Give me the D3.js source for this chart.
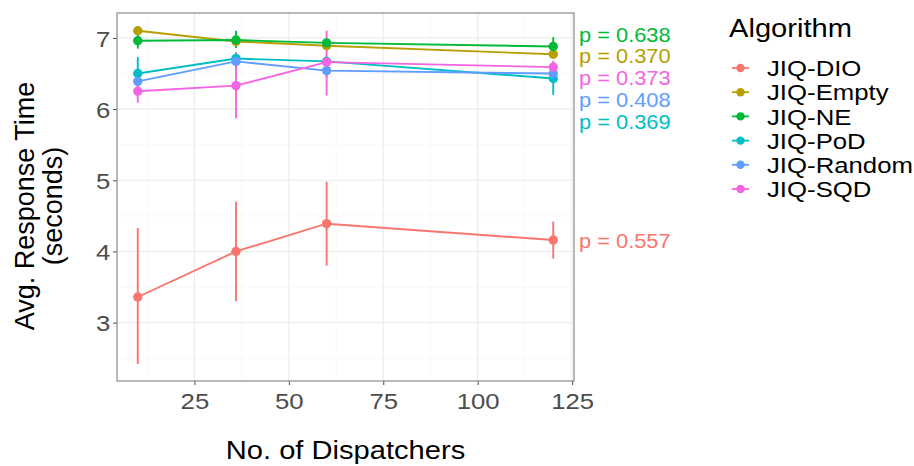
<!DOCTYPE html>
<meta charset="utf-8">
<style>
  body { margin: 0; background: #fff; }
  text { font-family: "Liberation Sans", Arial, sans-serif; }
  .grid-major { stroke: #ebebeb; stroke-width: 1.1px; }
  .grid-minor { stroke: #f4f4f4; stroke-width: 0.6px; }
  .tick text { fill: #4d4d4d; font-size: 23px; }
  .tick line { stroke: #4d4d4d; }
  .domain { display: none; }
</style>
<svg width="914" height="466"></svg>
<script src="https://cdn.jsdelivr.net/npm/d3@7"></script>
<script>
  // dispatchers on the x axis
  const dispatchers = [10, 36, 60, 120];

  const algorithms = ["JIQ-DIO", "JIQ-Empty", "JIQ-NE", "JIQ-PoD", "JIQ-Random", "JIQ-SQD"];
  const colors = ["#F8766D", "#B79F00", "#00BA38", "#00BFC4", "#619CFF", "#F564E3"];

  // mean response time per algorithm
  const meanDIO    = [3.36, 4.00, 4.39, 4.16];
  const meanEmpty  = [7.10, 6.95, 6.89, 6.77];
  const meanNE     = [6.96, 6.97, 6.93, 6.88];
  const meanPoD    = [6.50, 6.71, 6.67, 6.43];
  const meanRandom = [6.39, 6.67, 6.54, 6.50];
  const meanSQD    = [6.25, 6.33, 6.66, 6.59];

  // error bar limits
  const lowDIO    = [2.42, 3.30, 3.80, 3.90];
  const highDIO   = [4.33, 4.70, 4.98, 4.42];
  const lowEmpty  = [7.07, 6.92, 6.86, 6.74];
  const highEmpty = [7.13, 6.98, 6.92, 6.80];
  const lowNE     = [6.85, 6.86, 6.88, 6.76];
  const highNE    = [7.06, 7.10, 6.98, 7.01];
  const lowPoD    = [6.28, 6.60, 6.60, 6.20];
  const highPoD   = [6.73, 6.80, 6.74, 6.66];
  const lowRandom = [6.30, 6.55, 6.45, 6.42];
  const highRandom= [6.48, 6.80, 6.62, 6.58];
  const lowSQD    = [6.09, 5.87, 6.19, 6.50];
  const highSQD   = [6.40, 6.79, 7.10, 6.68];

  // p-value labels and where they sit (y in data units)
  const pLabels = ["p = 0.557", "p = 0.370", "p = 0.638", "p = 0.369", "p = 0.408", "p = 0.373"];
  const pLabelY = [4.15, 6.74, 7.04, 5.82, 6.13, 6.44];

  const xTicks = [25, 50, 75, 100, 125];
  const yTicks = [3, 4, 5, 6, 7];

  const means = [meanDIO, meanEmpty, meanNE, meanPoD, meanRandom, meanSQD];
  const lows = [lowDIO, lowEmpty, lowNE, lowPoD, lowRandom, lowSQD];
  const highs = [highDIO, highEmpty, highNE, highPoD, highRandom, highSQD];

  const series = algorithms.map((name, i) => ({
    name: name,
    color: colors[i],
    label: pLabels[i],
    labelY: pLabelY[i],
    points: dispatchers.map((d, j) => ({ x: d, y: means[i][j], lo: lows[i][j], hi: highs[i][j] }))
  }));

  const panel = {left: 117, top: 13, right: 574, bottom: 381};
  const stretch = "scale(1.12,1)";   // picture is a bit wider than tall

  const svg = d3.select("svg");

  const x = d3.scaleLinear().domain([4.5, 125.5]).range([panel.left, panel.right]);
  const y = d3.scaleLinear().domain([2.18, 7.35]).range([panel.bottom, panel.top]);

  // grid
  const minorX = d3.range(12.5, 125, 25);
  const minorY = d3.range(2.5, 7.4, 1);
  svg.append("g").selectAll("line").data(minorX).enter().append("line")
    .attr("class", "grid-minor")
    .attr("x1", d => x(d)).attr("x2", d => x(d))
    .attr("y1", panel.top).attr("y2", panel.bottom);
  svg.append("g").selectAll("line").data(minorY).enter().append("line")
    .attr("class", "grid-minor")
    .attr("x1", panel.left).attr("x2", panel.right)
    .attr("y1", d => y(d)).attr("y2", d => y(d));
  svg.append("g").selectAll("line").data(xTicks).enter().append("line")
    .attr("class", "grid-major")
    .attr("x1", d => x(d)).attr("x2", d => x(d))
    .attr("y1", panel.top).attr("y2", panel.bottom);
  svg.append("g").selectAll("line").data(yTicks).enter().append("line")
    .attr("class", "grid-major")
    .attr("x1", panel.left).attr("x2", panel.right)
    .attr("y1", d => y(d)).attr("y2", d => y(d));

  // axes
  const xAxis = svg.append("g")
    .attr("transform", "translate(0," + panel.bottom + ")")
    .call(d3.axisBottom(x).tickValues(xTicks).tickFormat(d3.format("d")).tickSize(4).tickPadding(2));
  xAxis.selectAll(".tick text").attr("dy", "0.95em").attr("transform", stretch);

  const yAxis = svg.append("g")
    .attr("transform", "translate(" + panel.left + ",0)")
    .call(d3.axisLeft(y).tickValues(yTicks).tickFormat(d3.format("d")).tickSize(4).tickPadding(2));
  yAxis.selectAll(".tick text").attr("dy", "0.36em").attr("transform", stretch);

  // error bars, lines, points
  const layer = svg.append("g");
  series.forEach(s => {
    layer.selectAll(null).data(s.points).enter().append("line")
      .attr("x1", d => x(d.x)).attr("x2", d => x(d.x))
      .attr("y1", d => y(d.lo)).attr("y2", d => y(d.hi))
      .attr("stroke", s.color).attr("stroke-width", 1.9);
  });
  const line = d3.line().x(d => x(d.x)).y(d => y(d.y));
  series.forEach(s => {
    layer.append("path").datum(s.points)
      .attr("d", line)
      .attr("fill", "none")
      .attr("stroke", s.color).attr("stroke-width", 1.9);
  });
  series.forEach(s => {
    layer.selectAll(null).data(s.points).enter().append("circle")
      .attr("cx", d => x(d.x)).attr("cy", d => y(d.y))
      .attr("r", 4.7).attr("fill", s.color);
  });

  // panel border
  svg.append("rect")
    .attr("x", panel.left).attr("y", panel.top)
    .attr("width", panel.right - panel.left).attr("height", panel.bottom - panel.top)
    .attr("fill", "none").attr("stroke", "#8a8a8a").attr("stroke-width", 1.2);

  // p-value labels
  series.forEach(s => {
    svg.append("text")
      .attr("transform", "translate(579," + y(s.labelY) + ") " + stretch)
      .attr("dy", "0.36em")
      .attr("font-size", 19.5)
      .attr("fill", s.color)
      .text(s.label);
  });

  // axis titles
  svg.append("text")
    .attr("transform", "translate(" + (panel.left + panel.right) / 2 + ",459) " + stretch)
    .attr("text-anchor", "middle")
    .attr("font-size", 26)
    .text("No. of Dispatchers");

  const midY = 206;
  svg.append("text")
    .attr("transform", "translate(34," + midY + ") rotate(-90)")
    .attr("text-anchor", "middle")
    .attr("font-size", 27)
    .text("Avg. Response Time");
  svg.append("text")
    .attr("transform", "translate(62," + midY + ") rotate(-90)")
    .attr("text-anchor", "middle")
    .attr("font-size", 27)
    .text("(seconds)");

  // legend
  const legend = svg.append("g").attr("transform", "translate(729,0)");
  legend.append("text")
    .attr("transform", "translate(0,37) " + stretch)
    .attr("font-size", 26)
    .text("Algorithm");
  const item = legend.selectAll(".item").data(series).enter().append("g")
    .attr("class", "item")
    .attr("transform", (d, i) => "translate(0," + (68 + i * 24.2) + ")");
  item.append("line")
    .attr("x1", 3).attr("x2", 20)
    .attr("stroke", d => d.color).attr("stroke-width", 1.8);
  item.append("circle")
    .attr("cx", 11.5).attr("r", 4.2)
    .attr("fill", d => d.color);
  item.append("text")
    .attr("transform", "translate(38,0) " + stretch)
    .attr("dy", "0.36em")
    .attr("font-size", 23)
    .text(d => d.name);
</script>
